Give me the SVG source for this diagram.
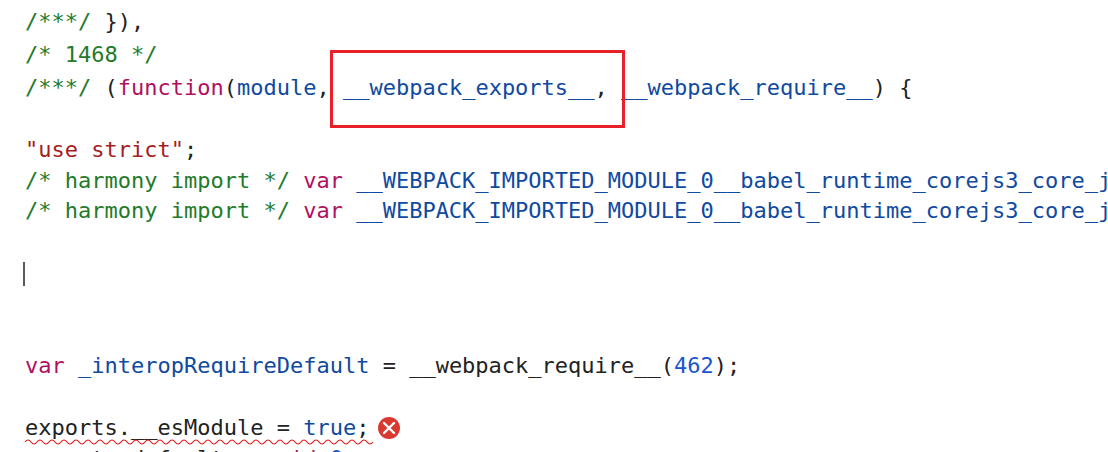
<svg xmlns="http://www.w3.org/2000/svg" width="1108" height="452" viewBox="0 0 1108 452">
<style>
text{font-family:"DejaVu Sans Mono",monospace;font-size:22px;fill:#222;white-space:pre}
.c{fill:#237a2a}.k{fill:#b0105f}.v{fill:#0f4aa0}.s{fill:#a51d1d}.n{fill:#1a55d0}
</style>
<rect width="1108" height="452" fill="#fff"/>
<g id="code">
<text x="25" y="29"><tspan class="c">/***/</tspan> }),</text>
<text x="25" y="62" class="c">/* 1468 */</text>
<text x="25" y="95"><tspan class="c">/***/</tspan> (<tspan class="k">function</tspan>(<tspan class="v">module</tspan>, <tspan class="v">__webpack_exports__</tspan>, <tspan class="v">__webpack_require__</tspan>) {</text>
<text x="25" y="157"><tspan class="s">"use strict"</tspan>;</text>
<text x="25" y="188"><tspan class="c">/* harmony import */</tspan> <tspan class="k">var</tspan> <tspan class="v">__WEBPACK_IMPORTED_MODULE_0__babel_runtime_corejs3_core_j</tspan></text>
<text x="25" y="218"><tspan class="c">/* harmony import */</tspan> <tspan class="k">var</tspan> <tspan class="v">__WEBPACK_IMPORTED_MODULE_0__babel_runtime_corejs3_core_j</tspan></text>
<text x="25" y="373"><tspan class="k">var</tspan> <tspan class="v">_interopRequireDefault</tspan> = __webpack_require__(<tspan class="n">462</tspan>);</text>
<text x="25" y="435">exports.__esModule = <tspan class="v">true</tspan>;</text>
<text x="25" y="466">exports.default = <tspan class="k">void</tspan> <tspan class="n">0</tspan>;</text>
</g>
<line x1="24" y1="262" x2="24" y2="286" stroke="#222" stroke-width="1.5"/>
<path d="M25 442 q3 -4 6 0 t6 0 t6 0 t6 0 t6 0 t6 0 t6 0 t6 0 t6 0 t6 0 t6 0 t6 0 t6 0 t6 0 t6 0 t6 0 t6 0 t6 0 t6 0 t6 0 t6 0 t6 0 t6 0 t6 0 t6 0 t6 0 t6 0 t6 0 t6 0 t6 0 t6 0 t6 0 t6 0 t6 0 t6 0 t6 0 t6 0 t6 0 t6 0 t6 0 t6 0 t6 0 t6 0 t6 0 t6 0 t6 0 t6 0 t6 0 t6 0 t6 0 t6 0 t6 0 t6 0 t6 0 t6 0 t6 0 t6 0 t6 0" fill="none" stroke="#e02020" stroke-width="1.2"/>
<g id="error">
<circle cx="389" cy="428" r="11" fill="#d93a30"/>
<path d="M384 423 L394 433 M394 423 L384 433" stroke="#fff" stroke-width="2.4" stroke-linecap="round"/>
</g>
<rect id="highlight" x="331.5" y="51.5" width="292" height="75" fill="none" stroke="#e8202a" stroke-width="3"/>
</svg>
